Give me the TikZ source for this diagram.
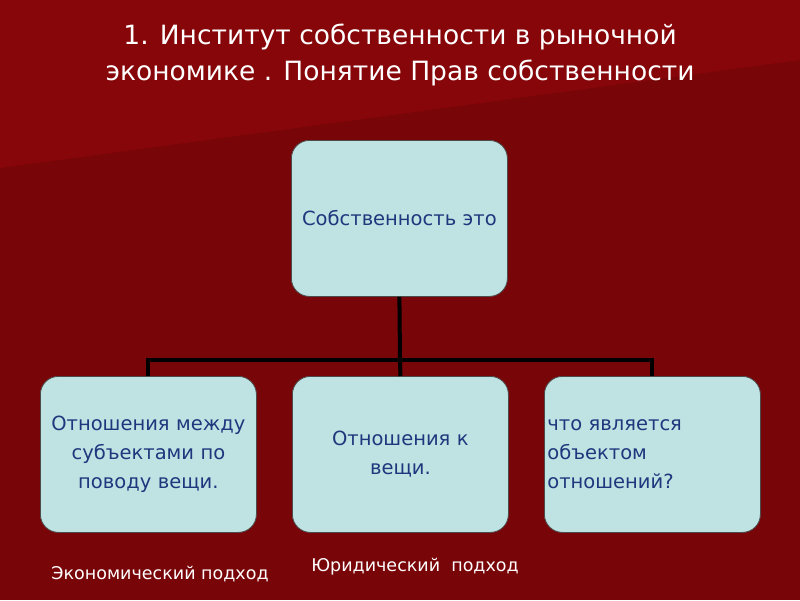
\documentclass[tikz,border=0pt]{standalone}
\usepackage{fontspec}
\setmainfont{DejaVu Sans}
\begin{document}
\begin{tikzpicture}[x=1pt,y=-1pt,
 box/.style={draw=black!70,line width=0.8pt,fill={rgb,255:red,191;green,227;blue,227},rounded corners=18pt,minimum width=216pt,minimum height=156pt,anchor=north west,text width=210pt,align=center,font=\fontsize{19.5}{29}\selectfont,text={rgb,255:red,30;green,55;blue,125},inner sep=3pt},
 conn/.style={line width=4pt,black},
 lbl/.style={text=white,font=\fontsize{17.5}{20}\selectfont}]
\fill[fill={rgb,255:red,120;green,5;blue,8}] (0,0) rectangle (800,600);
\fill[fill={rgb,255:red,134;green,6;blue,9}] (0,0) -- (800,0) -- (800,60) -- (0,168) -- cycle;
\useasboundingbox (0,0) rectangle (800,600);
\node[text=white,align=center,font=\fontsize{26.5}{36}\selectfont] (title) at (400,55) {1. Институт собственности в рыночной\\экономике . Понятие Прав собственности};
\node[box] (top) at (291,140) {Собственность это};
\node[box] (b1) at (40,376) {Отношения между субъектами по поводу вещи.};
\node[box] (b2) at (292,376) {Отношения к\\вещи.};
\node[box,align=left] (b3) at (544,376) {что является\\объектом\\отношений?};
\coordinate (j) at (400,360);
\draw[conn] (top.south) -- (j);
\draw[conn] (b1.north) -- (b1.north |- j) -- (b3.north |- j) -- (b3.north);
\draw[conn] (j) -- (b2.north);
\node[lbl] (l1) at (160,574) {Экономический подход};
\node[lbl] (l2) at (415,567) {Юридический\ \ подход};
\end{tikzpicture}
\end{document}
